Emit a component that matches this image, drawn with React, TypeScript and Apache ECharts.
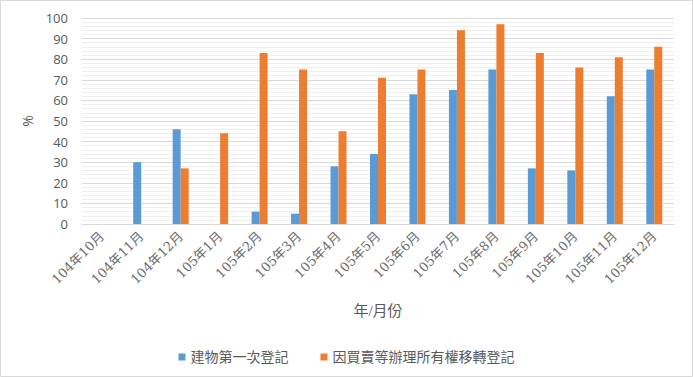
import React, { useEffect, useRef } from "react";
import * as echarts from "echarts";

const categories = [
  "104年10月", "104年11月", "104年12月", "105年1月", "105年2月", "105年3月", "105年4月",
  "105年5月", "105年6月", "105年7月", "105年8月", "105年9月", "105年10月", "105年11月", "105年12月",
];
const seriesNames = ["建物第一次登記", "因買賣等辦理所有權移轉登記"];
const firstRegistration = [0, 30, 46, 0, 6, 5, 28, 34, 63, 65, 75, 27, 26, 62, 75];
const transferRegistration = [0, 0, 27, 44, 83, 75, 45, 71, 75, 94, 97, 83, 76, 81, 86];

export default function App() {
  const ref = useRef<HTMLDivElement>(null);
  useEffect(() => {
    document.body.style.margin = "0";
    const chart = echarts.init(ref.current!, null, { renderer: "svg" });
    const serifFont = "'DejaVu Serif', 'Noto Sans CJK TC', serif";
    const cjkFont = "'Liberation Serif', 'Noto Sans CJK TC', serif";
    chart.setOption({
      animation: false,
      backgroundColor: "#ffffff",
      graphic: [
        {
          type: "rect",
          shape: { x: 0.5, y: 0.5, width: 692, height: 376 },
          style: { fill: "none", stroke: "#d9d9d9", lineWidth: 1 },
          silent: true,
        },
      ],
      grid: { left: 82, right: 19, top: 18, bottom: 153, containLabel: false },
      legend: {
        top: 345,
        left: "center",
        itemWidth: 7,
        itemHeight: 7,
        itemGap: 32,
        icon: "rect",
        textStyle: { color: "#595959", fontSize: 14, fontFamily: cjkFont },
        data: seriesNames,
      },
      xAxis: {
        type: "category",
        data: categories,
        name: "年/月份",
        nameLocation: "middle",
        nameGap: 79,
        nameTextStyle: { color: "#595959", fontSize: 15, fontFamily: cjkFont },
        axisLine: { lineStyle: { color: "#d9d9d9" } },
        axisTick: { show: false },
        axisLabel: {
          rotate: 45,
          interval: 0,
          color: "#6a6a6a",
          fontSize: 13,
          fontFamily: serifFont,
          margin: 10,
        },
      },
      yAxis: {
        type: "value",
        min: 0,
        max: 100,
        interval: 10,
        name: "%",
        nameLocation: "middle",
        nameRotate: 90,
        nameGap: 41,
        nameTextStyle: { color: "#595959", fontSize: 14, fontFamily: "'Open Sans', sans-serif" },
        axisLine: { show: false },
        axisTick: { show: false },
        axisLabel: { color: "#595959", fontSize: 13, fontFamily: "'Open Sans', sans-serif", margin: 14 },
        splitLine: { lineStyle: { color: "#d9d9d9" } },
        minorTick: { show: false, splitNumber: 5 },
        minorSplitLine: { show: true, lineStyle: { color: "#efefef" } },
      },
      series: [
        {
          name: seriesNames[0],
          type: "bar",
          data: firstRegistration,
          barWidth: 8,
          barGap: "0%",
          itemStyle: { color: "#5b9bd5" },
        },
        {
          name: seriesNames[1],
          type: "bar",
          data: transferRegistration,
          barWidth: 8,
          barGap: "0%",
          itemStyle: { color: "#ed7d31" },
        },
      ],
    });
    return () => chart.dispose();
  }, []);
  return <div ref={ref} style={{ width: 693, height: 377 }} />;
}
